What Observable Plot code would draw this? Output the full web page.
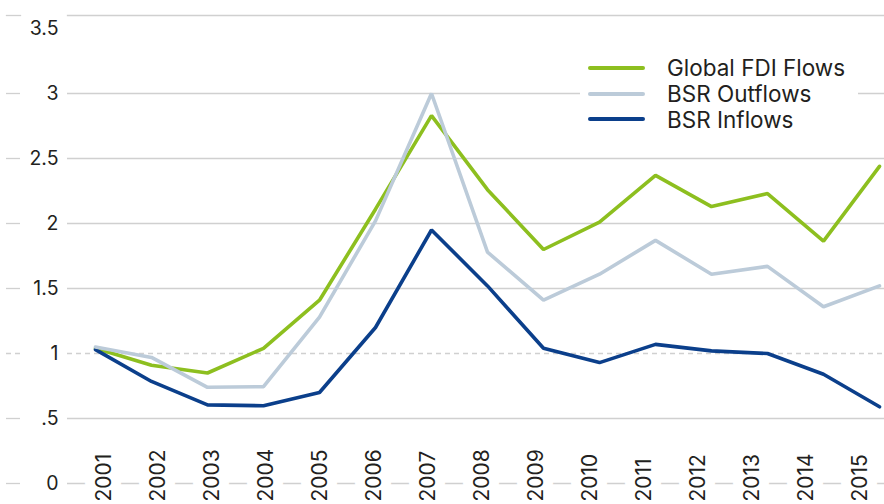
<!DOCTYPE html>
<html><head><meta charset="utf-8">
<script src="https://cdn.jsdelivr.net/npm/d3@7"></script>
<script src="https://cdn.jsdelivr.net/npm/@observablehq/plot@0.6"></script>
<style>
body{margin:0;background:#fff;}
#wrap{position:relative;width:884px;height:504px;overflow:hidden;font-family:Inter,sans-serif;}
#wrap svg{position:absolute;left:0;top:0;}
#legend{position:absolute;left:580px;top:52px;width:278px;height:84px;background:#fff;padding-top:3px;box-sizing:border-box;}
.row{height:25.7px;display:flex;align-items:center;color:#231f20;font-size:22.5px;white-space:nowrap;}
.sw{width:57px;height:4px;border-radius:2px;margin-left:8px;margin-right:22px;flex:none;}
</style></head><body><div id="wrap"></div>
<script>
const years = [2001,2002,2003,2004,2005,2006,2007,2008,2009,2010,2011,2012,2013,2014,2015];
const globalFDI   = [1.04,0.91,0.85,1.04,1.41,2.11,2.83,2.26,1.80,2.01,2.37,2.13,2.23,1.865,2.44];
const bsrOutflows = [1.05,0.97,0.74,0.745,1.28,2.02,3.00,1.78,1.41,1.61,1.87,1.61,1.67,1.36,1.52];
const bsrInflows  = [1.03,0.785,0.605,0.598,0.70,1.20,1.95,1.52,1.04,0.93,1.07,1.02,1.00,0.84,0.59];
const seriesNames  = ["Global FDI Flows","BSR Outflows","BSR Inflows"];
const seriesColors = ["#8dbf1f","#bccbd9","#0b3f8b"];
const yTicks     = [0,0.5,1,1.5,2,2.5,3,3.5];
const gridSolid  = [0,0.5,1.5,2,2.5,3];
const gridDashed = [1];
const yMax = 3.6;

const W = 884, H = 504;
const font = 'Inter, sans-serif';
const gridColor = "#d0d0d0";
const textColor = "#231f20";
const toRows = vals => years.map((year, i) => ({year, value: vals[i]}));
const fmt = d => String(d).replace(/^0\./, ".");

const p1 = Plot.plot({
  width: W, height: H,
  marginLeft: 6, marginRight: 0, marginTop: 15, marginBottom: 21,
  insetLeft: 87, insetRight: 4,
  x: {type: "point", domain: years, padding: 0, axis: null},
  y: {domain: [0, yMax], axis: null},
  style: {fontFamily: font, background: "transparent", overflow: "hidden"},
  marks: [
    Plot.ruleY(gridSolid, {stroke: gridColor, strokeWidth: 1.3, insetRight: 864}),
    Plot.ruleY(gridSolid, {stroke: gridColor, strokeWidth: 1.3, insetLeft: 61}),
    Plot.ruleY(gridDashed, {stroke: gridColor, strokeWidth: 1.3, strokeDasharray: "5,4", insetRight: 864}),
    Plot.ruleY(gridDashed, {stroke: gridColor, strokeWidth: 1.3, strokeDasharray: "5,4", insetLeft: 61}),
    Plot.frame({anchor: "top", stroke: gridColor, strokeWidth: 1.3, strokeOpacity: 1, insetRight: 864}),
    Plot.frame({anchor: "top", stroke: gridColor, strokeWidth: 1.3, strokeOpacity: 1, insetLeft: 61}),
    Plot.text(yTicks, {y: d => d, text: fmt, frameAnchor: "left", dx: 52, textAnchor: "end", fontSize: 19.5, fill: textColor}),
    Plot.line(toRows(globalFDI),   {x: "year", y: "value", stroke: seriesColors[0], strokeWidth: 3.6, strokeLinejoin: "miter"}),
    Plot.line(toRows(bsrInflows),  {x: "year", y: "value", stroke: seriesColors[2], strokeWidth: 3.6, strokeLinejoin: "miter"}),
    Plot.line(toRows(bsrOutflows), {x: "year", y: "value", stroke: seriesColors[1], strokeWidth: 3.6, strokeLinejoin: "miter"})
  ]
});

const p2 = Plot.plot({
  width: W, height: H,
  marginLeft: 6, marginRight: 0, marginTop: 15, marginBottom: 0,
  insetLeft: 101, insetRight: 16,
  x: {type: "point", domain: years, padding: 0, axis: null},
  style: {fontFamily: font, background: "transparent", overflow: "hidden"},
  marks: [
    Plot.text(years, {x: d => d, text: d => String(d), frameAnchor: "bottom", rotate: -90, textAnchor: "start", dy: -3,
      fontSize: 21, fill: textColor, stroke: "white", strokeWidth: 20, paintOrder: "stroke"})
  ]
});

const wrap = document.getElementById("wrap");
wrap.appendChild(p1);
wrap.appendChild(p2);

const legend = document.createElement("div");
legend.id = "legend";
seriesNames.forEach((name, i) => {
  const row = document.createElement("div");
  row.className = "row";
  const sw = document.createElement("span");
  sw.className = "sw";
  sw.style.background = seriesColors[i];
  const label = document.createElement("span");
  label.textContent = name;
  row.appendChild(sw);
  row.appendChild(label);
  legend.appendChild(row);
});
wrap.appendChild(legend);
</script></body></html>
